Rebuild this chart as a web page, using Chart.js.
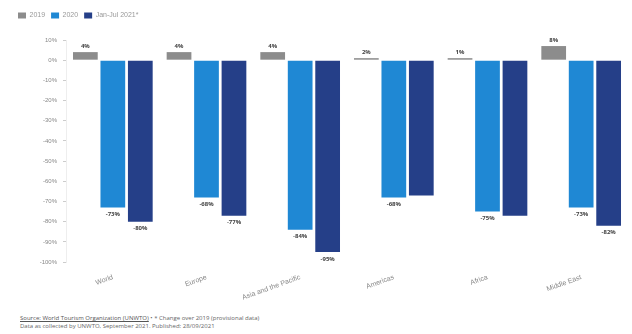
<!DOCTYPE html>
<html>
<head>
<meta charset="utf-8">
<script src="https://cdn.jsdelivr.net/npm/chart.js@4.4.0/dist/chart.umd.min.js"></script>
<style>
  body { margin: 0; background: #fff; font-family: "Open Sans", Arial, sans-serif; }
  #wrap { position: relative; width: 632px; height: 305px; }
  #note { position: absolute; left: 20px; top: 314px; width: 600px; font-size: 6px; line-height: 8px; color: #666; }
  #note u { color: #555; }
</style>
</head>
<body>
<div id="wrap"><canvas id="myChart"></canvas></div>
<div id="note"><u>Source: World Tourism Organization (UNWTO)</u> &bull; * Change over 2019 (provisional data)<br>Data as collected by UNWTO, September 2021. Published: 28/09/2021</div>
<script>
const regions = ['World', 'Europe', 'Asia and the Pacific', 'Americas', 'Africa', 'Middle East'];
const change2019 = [4, 4, 4, 1, 1, 7];
const change2020 = [-73, -68, -84, -68, -75, -73];
const changeJanJul2021 = [-80, -77, -95, -67, -77, -82];
const labels2019 = ['4%', '4%', '4%', '2%', '1%', '8%'];
const labels2020 = ['-73%', '-68%', '-84%', '-68%', '-75%', '-73%'];
const labels2021 = ['-80%', '-77%', '-95%', '', '', '-82%'];
const yTicks = [10, 0, -10, -20, -30, -40, -50, -60, -70, -80, -90, -100];

// draws the small value text above / below each bar
const barLabels = {
    id: 'barLabels',
    afterDatasetsDraw(chart) {
        const ctx = chart.ctx;
        ctx.save();
        ctx.font = 'bold 6px "Open Sans", Arial, sans-serif';
        ctx.fillStyle = '#444';
        ctx.textAlign = 'center';
        chart.data.datasets.forEach((ds, i) => {
            const meta = chart.getDatasetMeta(i);
            meta.data.forEach((bar, j) => {
                const text = ds.valueLabels[j];
                if (!text) {
                    return;
                }
                if (ds.data[j] >= 0) {
                    ctx.textBaseline = 'bottom';
                    ctx.fillText(text, bar.x, bar.y - 3);
                } else {
                    ctx.textBaseline = 'top';
                    ctx.fillText(text, bar.x, bar.y + 4);
                }
            });
        });
        ctx.restore();
    }
};

// extra space between legend and plot
const legendSpace = {
    id: 'legendSpace',
    beforeInit(chart) {
        const fit = chart.legend.fit;
        chart.legend.fit = function () {
            fit.bind(chart.legend)();
            this.height += 11;
        };
    }
};

const ctx = document.getElementById('myChart').getContext('2d');
const myChart = new Chart(ctx, {
    type: 'bar',
    data: {
        labels: regions,
        datasets: [{
            label: '2019',
            data: change2019,
            valueLabels: labels2019,
            backgroundColor: '#8c8c8c'
        }, {
            label: '2020',
            data: change2020,
            valueLabels: labels2020,
            backgroundColor: '#1f88d4'
        }, {
            label: 'Jan-Jul 2021*',
            data: changeJanJul2021,
            valueLabels: labels2021,
            backgroundColor: '#253f88'
        }]
    },
    options: {
        responsive: true,
        maintainAspectRatio: false,
        animation: false,
        layout: { padding: { left: 12, right: 4, top: 6, bottom: 0 } },
        datasets: {
            bar: { categoryPercentage: 0.88, barPercentage: 0.9 }
        },
        plugins: {
            legend: {
                position: 'top',
                align: 'start',
                labels: {
                    boxWidth: 8,
                    boxHeight: 6,
                    padding: 6,
                    color: '#999',
                    font: { size: 7 }
                }
            },
            tooltip: { enabled: false }
        },
        scales: {
            x: {
                grid: { display: false },
                border: { display: false },
                ticks: {
                    color: '#888',
                    font: { size: 7 },
                    minRotation: 20,
                    maxRotation: 20
                }
            },
            y: {
                min: -100,
                max: 10,
                afterBuildTicks: axis => {
                    axis.ticks = yTicks.map(v => ({ value: v }));
                },
                afterFit: axis => {
                    axis.width = 54;
                },
                grid: { drawOnChartArea: false, tickLength: 3, color: '#ccc' },
                border: { display: true, color: '#eee' },
                ticks: {
                    color: '#888',
                    font: { size: 6 },
                    padding: 6,
                    callback: v => v + '%'
                }
            }
        }
    },
    plugins: [barLabels, legendSpace]
});
</script>
</body>
</html>
